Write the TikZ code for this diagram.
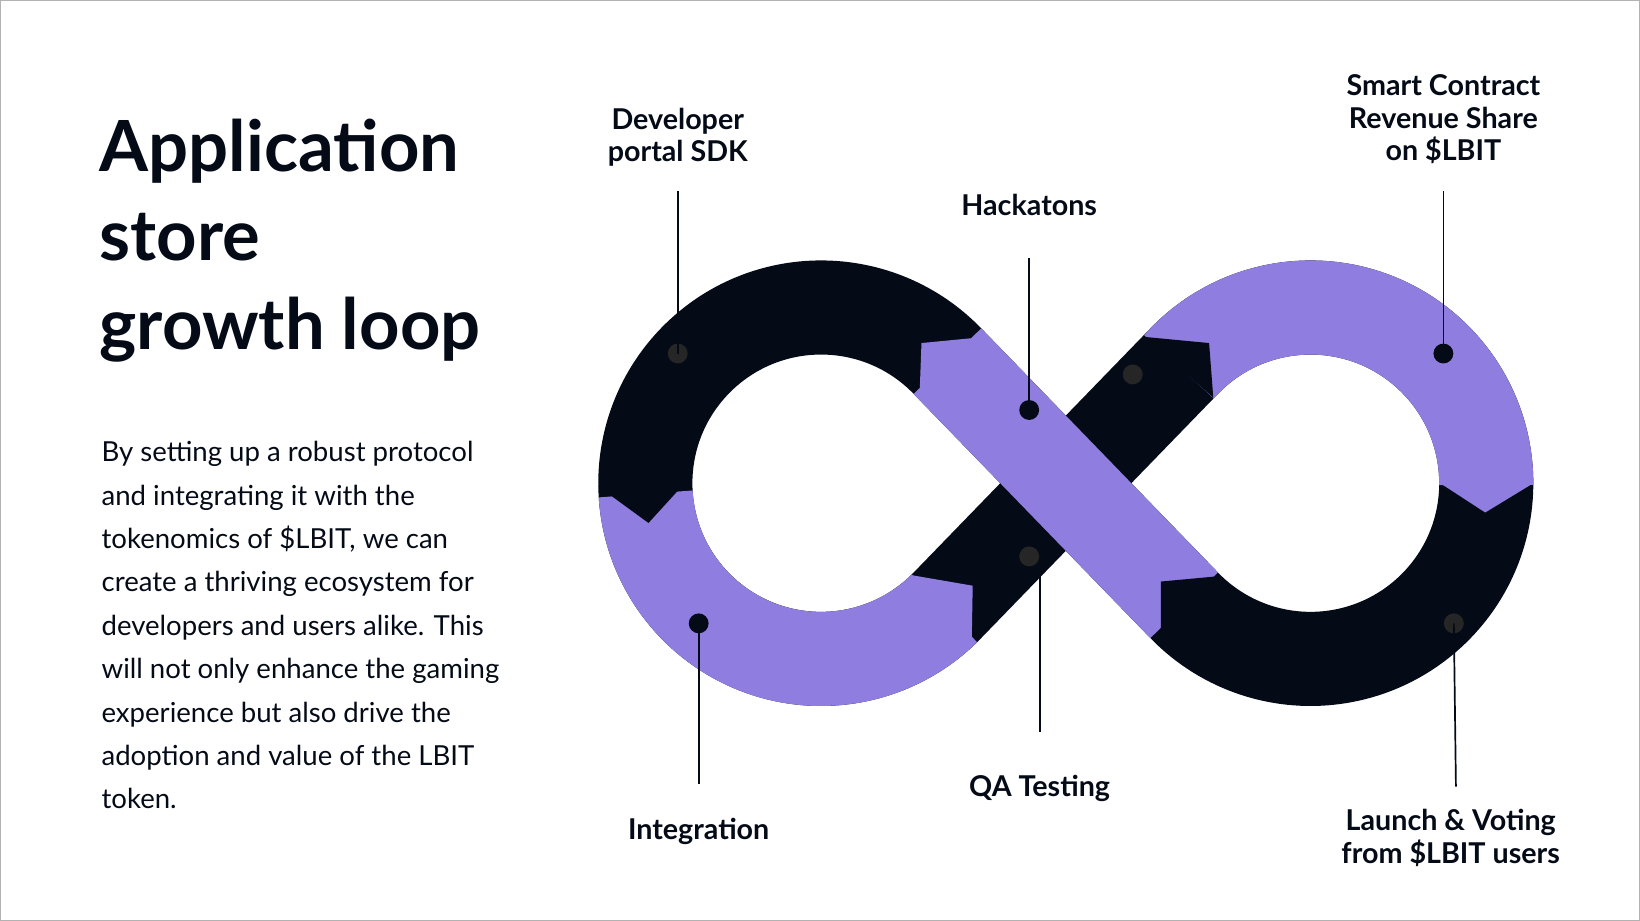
\documentclass[tikz,border=0pt]{standalone}
\usepackage{fontspec}
\setmainfont{Lato}
\usetikzlibrary{calc}
\definecolor{ink}{HTML}{040B17}
\definecolor{lilac}{HTML}{8F7DDF}
\tikzset{
band/.style={line width=4.5cm, line cap=butt, line join=round},
pin/.style={line width=2.3pt, ink},
dot/.style={circle, fill=ink, inner sep=0pt, minimum size=0.95cm},
label/.style={align=center, font=\fontsize{39}{44}\selectfont\bfseries, text=ink},
}

\begin{document}
\begin{tikzpicture}[x=0.05cm,y=0.05cm]
    \useasboundingbox (0,0) rectangle (1568,880);
    \draw[gray!60, line width=2pt] (0,0) rectangle (1568,880);
    \coordinate (L) at (785,418);
    \coordinate (R) at (1253,418);
% whole loop in dark
    \draw[band, ink] ($(L)+(44:168)$) arc[start angle=44, end angle=316, radius=168]
        -- ($(R)+(136:168)$) arc[start angle=136, end angle=-136, radius=168] -- cycle;
% purple parts
    \draw[band, lilac] ($(L)+(183.5:168)$) arc[start angle=183.5, end angle=314.6, radius=168];
    \draw[band, lilac] ($(R)+(138.5:168)$) arc[start angle=138.5, end angle=-0.6, radius=168];
    \draw[band, lilac] ($(L)+(44:168)$) -- ($(R)+(224:168)$);
% arrow tips
    \fill[ink] (572,415) -- (620,380) -- (661,425) -- cycle;
    \fill[lilac] (872,330) -- (930,320) -- (929,264) -- cycle;
    \fill[lilac] (943,558) -- (881,552) -- (879,497) -- cycle;
    \fill[ink] (1093,558) -- (1156,552) -- (1160,500) -- cycle;
    \fill[ink] (1164,329) -- (1110,324) -- (1110,261) -- cycle;
    \fill[lilac] (1377,418) -- (1420,390) -- (1466,418) -- cycle;
% pins
    \node[dot, fill=black!85] (d1) at (648,542) {};
    \node[dot] (d2) at (984,488) {};
    \node[dot, fill=black!85] (d3) at (1083,522) {};
    \node[dot] (d4) at (1380,542) {};
    \node[dot] (d5) at (668,284) {};
    \node[dot, fill=black!85] (d6) at (984,348) {};
    \node[dot, fill=black!85] (d7) at (1390,284) {};
    \node[label] (sdk) at (648,749) {Developer\\portal SDK};
    \node[label] (hack) at (984,684) {Hackatons};
    \node[label] (smart) at (1380,766) {Smart Contract\\Revenue Share\\on \$LBIT};
    \node[label] (integ) at (668,85) {Integration};
    \node[label] (qa) at (994,126) {QA Testing};
    \node[label] (launch) at (1387,79) {Launch \& Voting\\from \$LBIT users};
    \coordinate (s1) at (648,697);
    \coordinate (s2) at (984,633);
    \coordinate (s4) at (1380,697);
    \coordinate (s5) at (668,130);
    \coordinate (s6) at (994,180);
    \coordinate (s6b) at (994,335);
    \coordinate (s7) at (1392,128);
    \draw[pin] (s1) -- (d1.center);
    \draw[pin] (s2) -- (d2.center);
    \draw[pin] (s4) -- (d4.center);
    \draw[pin] (s5) -- (d5.center);
    \draw[pin] (s6) -- (s6b);
    \draw[pin] (s7) -- (d7.center);
% text block
    \node[anchor=north west, inner sep=0pt, align=left, text=ink,
        font=\fontsize{96}{121}\selectfont\bfseries] (title) at (95,766)
        {Application\\store\\growth loop};
    \node[anchor=north west, inner sep=0pt, align=left, text=ink,
        font=\fontsize{37.5}{59}\selectfont] (body) at (97,458)
        {By setting up a robust protocol\\and integrating it with the\\tokenomics of \$LBIT, we can\\create a thriving ecosystem for\\developers and users alike. This\\will not only enhance the gaming\\experience but also drive the\\adoption and value of the LBIT\\token.};
\end{tikzpicture}
\end{document}
